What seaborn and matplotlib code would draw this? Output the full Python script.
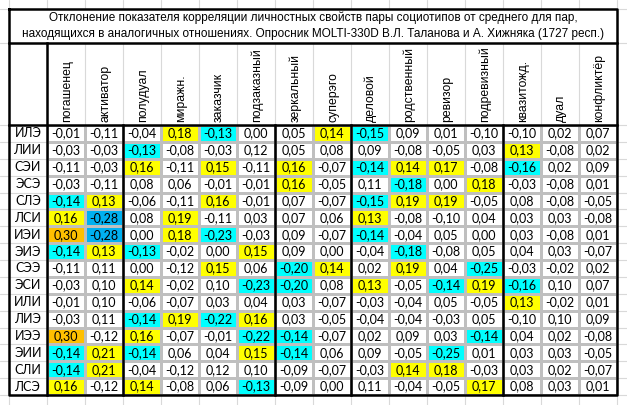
import numpy as np
import pandas as pd
import matplotlib
matplotlib.use("Agg")
import matplotlib.pyplot as plt
from matplotlib.colors import ListedColormap
import seaborn as sns

# -------------------------------------
# Data
# -------------------------------------

title_lines = [
    "Отклонение показателя корреляции личностных свойств пары социотипов от среднего для пар,",
    "находящихся в аналогичных отношениях. Опросник MOLTI-330D В.Л. Таланова и А. Хижняка (1727 респ.)",
]

relations = ["погашенец", "активатор", "полудуал", "миражн.", "заказчик",
             "подзаказный", "зеркальный", "суперэго", "деловой", "родственный",
             "ревизор", "подревизный", "квазитожд.", "дуал", "конфликтёр"]

sociotypes = ["ИЛЭ", "ЛИИ", "СЭИ", "ЭСЭ", "СЛЭ", "ЛСИ", "ИЭИ", "ЭИЭ",
              "СЭЭ", "ЭСИ", "ИЛИ", "ЛИЭ", "ИЭЭ", "ЭИИ", "СЛИ", "ЛСЭ"]

deviation = [
    [-0.01, -0.11, -0.04, 0.18, -0.13, 0.00, 0.05, 0.14, -0.15, 0.09, 0.01, -0.10, -0.10, 0.02, 0.07],
    [-0.03, -0.03, -0.13, -0.08, -0.03, 0.12, 0.05, 0.08, 0.09, -0.08, -0.05, 0.03, 0.13, -0.08, 0.02],
    [-0.11, -0.03, 0.16, -0.11, 0.15, -0.11, 0.16, -0.07, -0.14, 0.14, 0.17, -0.08, -0.16, 0.02, 0.09],
    [-0.03, -0.11, 0.08, 0.06, -0.01, -0.01, 0.16, -0.05, 0.11, -0.18, 0.00, 0.18, -0.03, -0.08, 0.01],
    [-0.14, 0.13, -0.06, -0.11, 0.16, -0.01, 0.07, -0.07, -0.15, 0.19, 0.19, -0.05, 0.08, -0.08, -0.05],
    [0.16, -0.28, 0.08, 0.19, -0.11, 0.03, 0.07, 0.06, 0.13, -0.08, -0.10, 0.04, 0.03, 0.03, -0.08],
    [0.30, -0.28, 0.00, 0.18, -0.23, -0.03, 0.09, -0.07, -0.14, -0.04, 0.05, 0.00, 0.03, -0.08, 0.01],
    [-0.14, 0.13, -0.13, -0.02, 0.00, 0.15, 0.09, 0.00, -0.04, -0.18, -0.08, 0.05, 0.04, 0.03, -0.07],
    [-0.11, 0.11, 0.00, -0.12, 0.15, 0.06, -0.20, 0.14, 0.02, 0.19, 0.04, -0.25, -0.03, -0.02, 0.02],
    [-0.03, 0.10, 0.14, -0.02, 0.10, -0.23, -0.20, 0.08, 0.13, -0.05, -0.14, 0.19, -0.16, 0.10, 0.07],
    [-0.01, 0.10, -0.06, -0.07, 0.03, 0.04, 0.03, -0.07, -0.03, -0.04, 0.05, -0.05, 0.13, -0.02, 0.01],
    [-0.03, 0.11, -0.14, 0.19, -0.22, 0.16, 0.03, -0.05, -0.04, -0.04, -0.03, 0.05, -0.10, 0.10, 0.09],
    [0.30, -0.12, 0.16, -0.07, -0.01, -0.22, -0.14, -0.07, 0.02, 0.09, 0.03, -0.14, 0.04, 0.02, -0.08],
    [-0.14, 0.21, -0.14, 0.06, 0.04, 0.15, -0.14, 0.06, 0.09, -0.05, -0.25, 0.01, 0.03, 0.03, -0.05],
    [-0.14, 0.21, -0.04, -0.12, 0.12, 0.10, -0.09, -0.07, -0.03, 0.14, 0.18, -0.03, 0.03, 0.02, -0.07],
    [0.16, -0.12, 0.14, -0.08, 0.06, -0.13, -0.09, 0.00, 0.11, -0.04, -0.05, 0.17, 0.08, 0.03, 0.01],
]

df = pd.DataFrame(deviation, index=sociotypes, columns=relations)

# -------------------------------------
# Highlight classes (like Excel conditional fill)
# -------------------------------------

vals = df.values
codes = np.select(
    [vals >= 0.25, vals >= 0.13, vals <= -0.26, vals <= -0.13],
    [4, 1, 3, 2],
    0,
)
fill = ListedColormap(["#FFFFFF", "#FFFF00", "#00FFFF", "#00B0F0", "#FFC000"])
labels = np.vectorize(lambda v: f"{v:.2f}".replace(".", ","))(vals)

# -------------------------------------
# Figure (pixel layout)
# -------------------------------------

sns.set_style("white")
plt.rcParams["font.family"] = ["Liberation Sans", "DejaVu Sans"]

W, H = 627, 405
x0, xl, x1 = 9, 47, 617
cw = (x1 - xl) / len(relations)
yt, yh, yd, yb = 9, 43, 125, 395
rh = (yb - yd) / len(sociotypes)

fig = plt.figure(figsize=(6.27, 4.05), dpi=100)

# background sheet grid
bg = fig.add_axes([0, 0, 1, 1])
bg.set_xlim(0, W)
bg.set_ylim(H, 0)
bg.axis("off")
col_edges = np.r_[x0, xl + cw * np.arange(len(relations) + 1)]
row_edges = np.r_[yt, yh, yd + rh * np.arange(len(sociotypes) + 2)]
for x in col_edges:
    bg.plot([x, x], [0, H], color="#D9D9D9", lw=0.8)
for y in row_edges:
    if y <= yh:
        bg.plot([x1, W], [y, y], color="#D9D9D9", lw=0.8)
        bg.plot([0, x0], [y, y], color="#D9D9D9", lw=0.8)
    else:
        bg.plot([0, W], [y, y], color="#D9D9D9", lw=0.8)
bg.add_patch(plt.Rectangle((x0, yt), x1 - x0, yh - yt, color="white", zorder=3))

# heatmap cells
hm = fig.add_axes([xl / W, 1 - yb / H, (x1 - xl) / W, (yb - yd) / H])
sns.heatmap(
    codes,
    ax=hm,
    cmap=fill,
    vmin=-0.5,
    vmax=4.5,
    annot=labels,
    fmt="",
    cbar=False,
    linewidths=0.8,
    linecolor="#BFBFBF",
    annot_kws=dict(color="black", fontsize=9, family=["Lato", "DejaVu Sans"]),
)
hm.set_xticks([])
hm.set_yticks([])

# overlay: borders and text
ov = fig.add_axes([0, 0, 1, 1], zorder=5)
ov.patch.set_alpha(0)
ov.set_xlim(0, W)
ov.set_ylim(H, 0)
ov.axis("off")

for i, line in enumerate(title_lines):
    ov.text((x0 + x1) / 2, 18 + 16 * i, line, ha="center", va="center",
            fontsize=8.5, color="black")

for j, name in enumerate(relations):
    ov.text(xl + cw * (j + 0.5) + 1, yd - 3, name, rotation=90, ha="center",
            va="bottom", fontsize=8.8, color="black")

for i, name in enumerate(sociotypes):
    ov.text((x0 + xl) / 2, yd + rh * (i + 0.5), name, ha="center", va="center",
            fontsize=9, family=["Lato", "DejaVu Sans"], color="black")

thick = dict(color="black", lw=1.8, solid_capstyle="projecting")
ov.plot([x0, x1, x1, x0, x0], [yt, yt, yb, yb, yt], **thick)
ov.plot([x0, x1], [yh, yh], **thick)
ov.plot([x0, x1], [yd, yd], **thick)
ov.plot([xl, xl], [yh, yb], **thick)
for k in [2, 6, 8, 12]:
    ov.plot([xl + cw * k] * 2, [yd, yb], **thick)

fig.savefig("out.png", dpi=100)
